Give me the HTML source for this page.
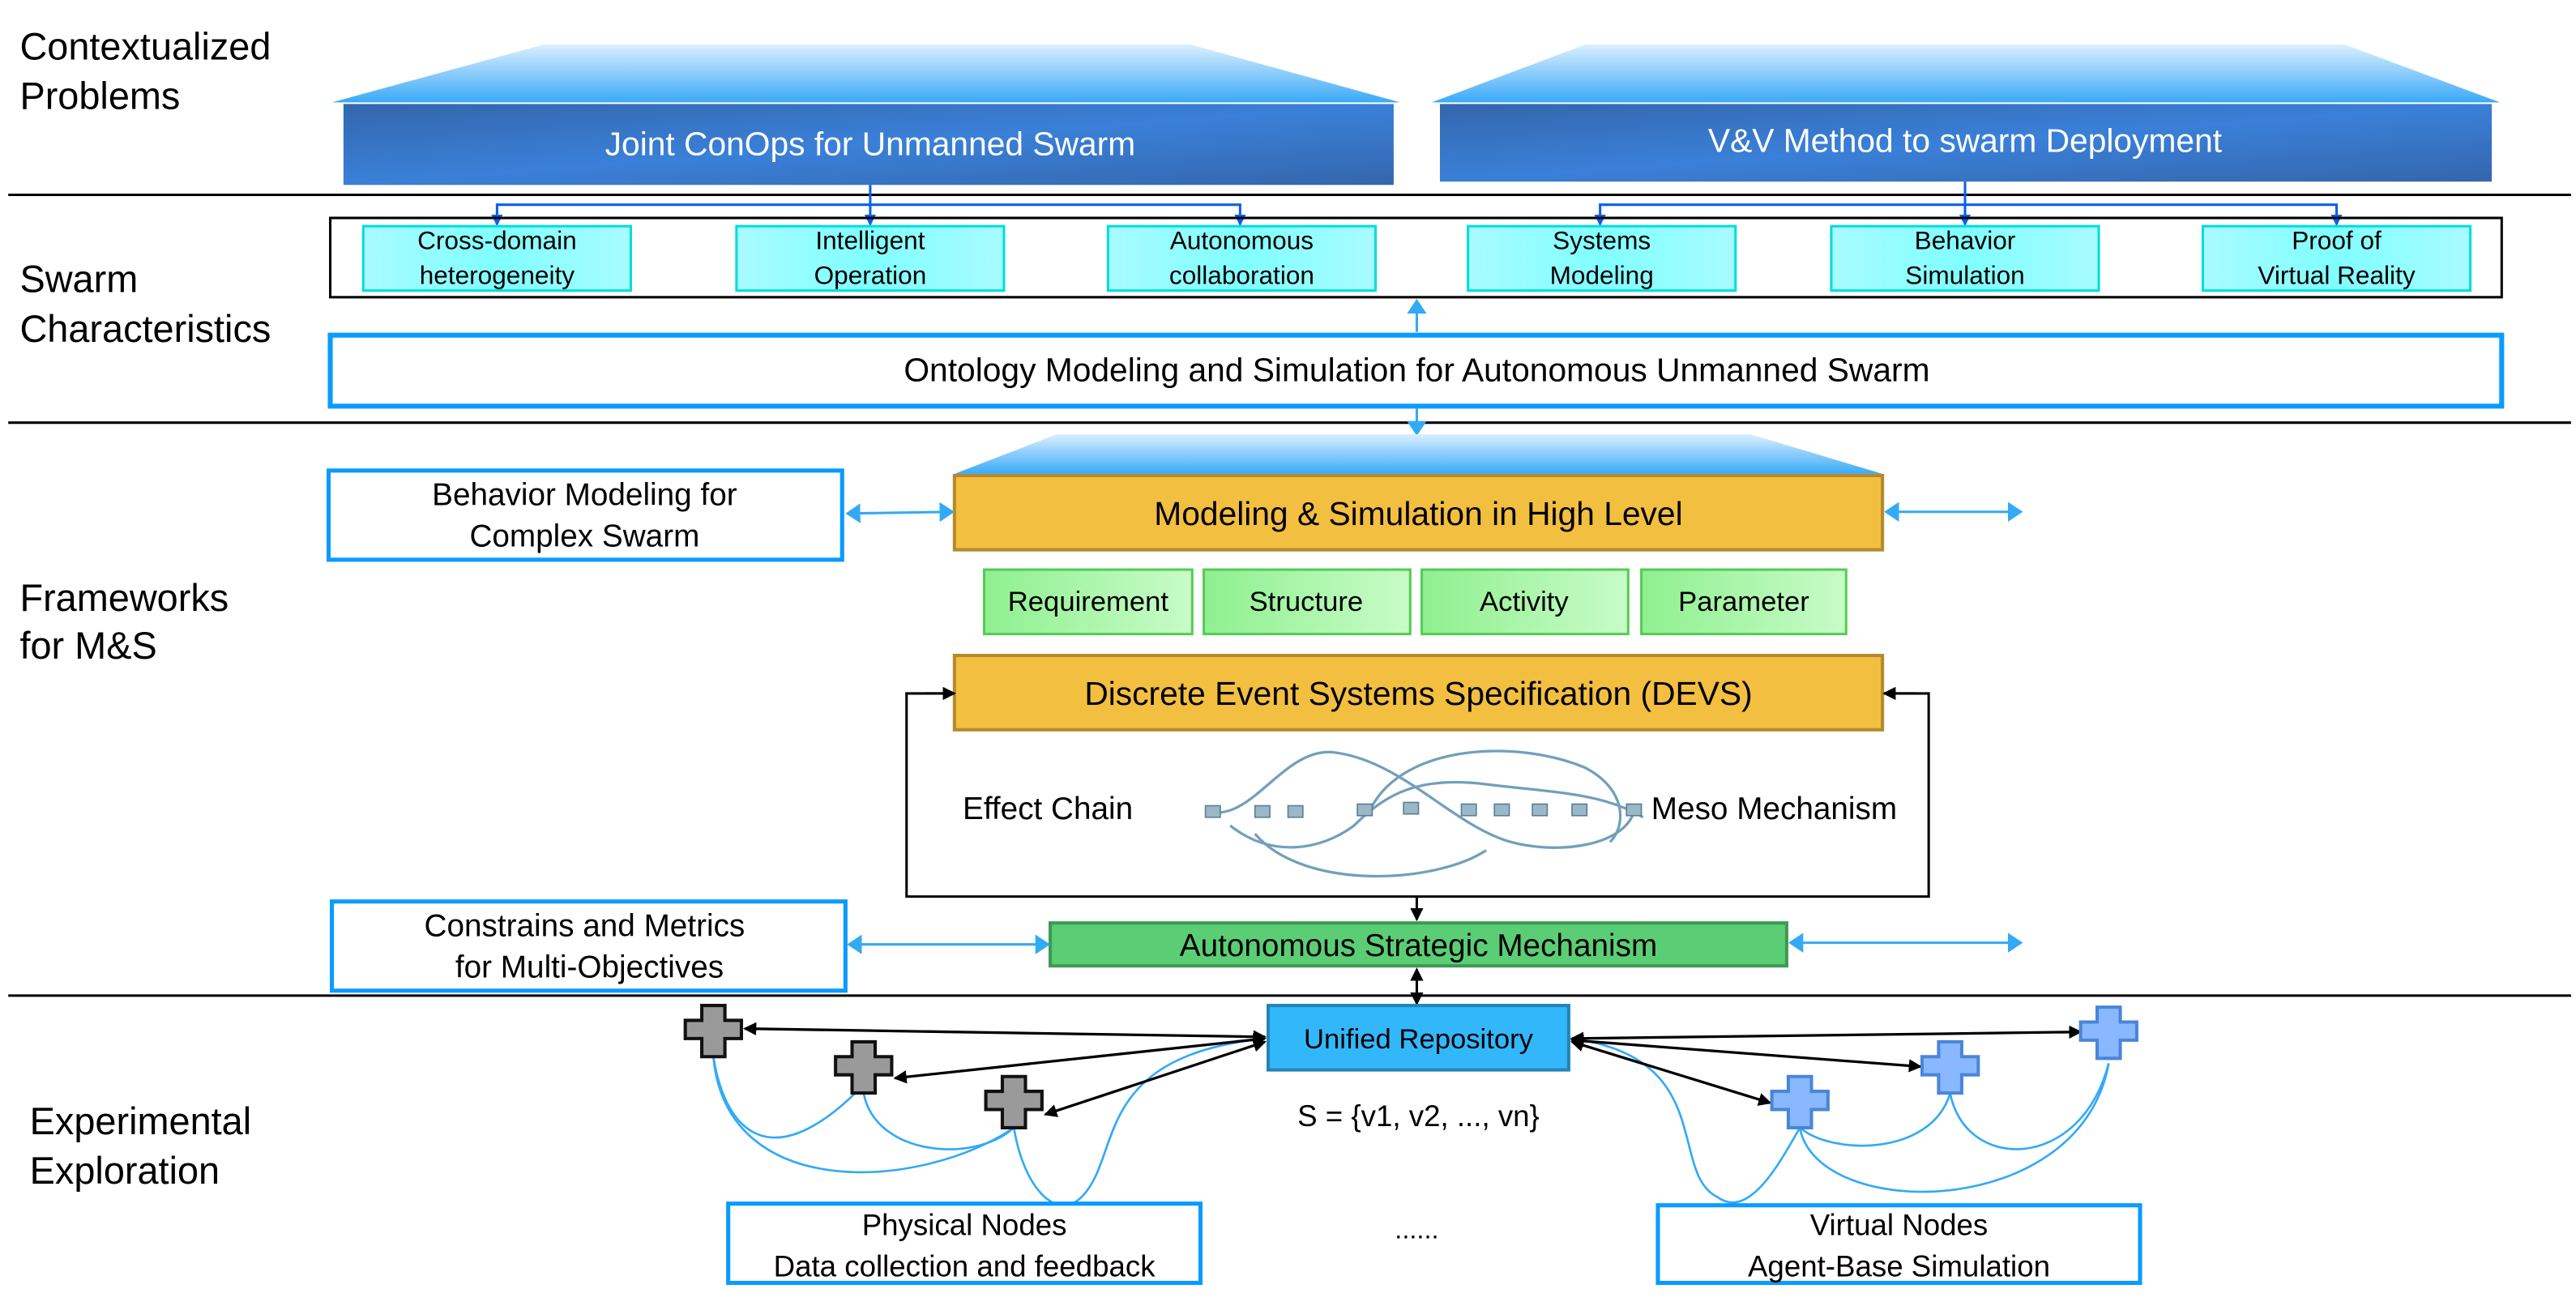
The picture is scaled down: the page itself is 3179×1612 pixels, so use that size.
<!DOCTYPE html>
<html><head><meta charset="utf-8"><style>
html,body{margin:0;padding:0;background:#fff;}
svg{display:block;}
text{font-family:"Liberation Sans",sans-serif;}
</style></head><body>
<svg width="3179" height="1612" viewBox="0 0 1560 791" preserveAspectRatio="none" xmlns="http://www.w3.org/2000/svg">
<defs>
<linearGradient id="trap" x1="0" y1="0" x2="0" y2="1"><stop offset="0" stop-color="#dbefff"/><stop offset="1" stop-color="#3aaaf8"/></linearGradient>
<linearGradient id="dblue" x1="0" y1="0" x2="1" y2="1"><stop offset="0" stop-color="#3466ad"/><stop offset="0.5" stop-color="#3a80d8"/><stop offset="1" stop-color="#3466ad"/></linearGradient>
<linearGradient id="cyan" x1="0" y1="0" x2="1" y2="0"><stop offset="0" stop-color="#a8fbff"/><stop offset="0.5" stop-color="#80ffff"/><stop offset="1" stop-color="#a8fbff"/></linearGradient>
<linearGradient id="lgreen" x1="0" y1="0" x2="1" y2="0"><stop offset="0" stop-color="#8ff08f"/><stop offset="1" stop-color="#c8fcc8"/></linearGradient>
<marker id="ab" markerWidth="8" markerHeight="8" refX="7" refY="4" orient="auto-start-reverse" markerUnits="userSpaceOnUse"><path d="M0,0 L8,4 L0,8 z" fill="#000"/></marker>
<marker id="abl" markerWidth="7" markerHeight="7" refX="6" refY="3.5" orient="auto-start-reverse" markerUnits="userSpaceOnUse"><path d="M0,0 L7,3.5 L0,7 z" fill="#0a5ff0"/></marker>
<marker id="ac" markerWidth="9" markerHeight="12" refX="8" refY="6" orient="auto-start-reverse" markerUnits="userSpaceOnUse"><path d="M0,0 L9,6 L0,12 z" fill="#33aaf5"/></marker>
</defs>

<!-- section lines -->
<g stroke="#000" stroke-width="1.5">
<line x1="5" y1="118" x2="1557" y2="118"/>
<line x1="5" y1="256" x2="1557" y2="256"/>
<line x1="5" y1="603" x2="1557" y2="603"/>
</g>

<!-- left labels -->
<g font-size="23" fill="#000">
<text x="12" y="36">Contextualized</text><text x="12" y="66">Problems</text>
<text x="12" y="177">Swarm</text><text x="12" y="207">Characteristics</text>
<text x="12" y="370">Frameworks</text><text x="12" y="399">for M&amp;S</text>
<text x="18" y="687">Experimental</text><text x="18" y="717">Exploration</text>
</g>

<!-- top blue blocks -->
<polygon points="201,62 329,27 721,27 848,62" fill="url(#trap)"/>
<rect x="208" y="63" width="636" height="49" fill="url(#dblue)"/>
<text x="527" y="94" text-anchor="middle" font-size="20" fill="#fff">Joint ConOps for Unmanned Swarm</text>
<polygon points="867,62 960,27 1420,27 1514,62" fill="url(#trap)"/>
<rect x="872" y="63" width="637" height="47" fill="url(#dblue)"/>
<text x="1190" y="92" text-anchor="middle" font-size="20" fill="#fff">V&amp;V Method  to swarm Deployment</text>

<!-- blue tree connectors -->
<g stroke="#0a5ff0" stroke-width="1.5" fill="none">
<line x1="527" y1="112" x2="527" y2="136" marker-end="url(#abl)"/>
<polyline points="301,136 301,124 751,124 751,136" marker-start="url(#abl)" marker-end="url(#abl)"/>
<line x1="1190" y1="110" x2="1190" y2="136" marker-end="url(#abl)"/>
<polyline points="969,136 969,124 1415,124 1415,136" marker-start="url(#abl)" marker-end="url(#abl)"/>
</g>

<rect x="200" y="132" width="1315" height="48" fill="none" stroke="#000" stroke-width="1.5"/>
<g font-size="15.5" text-anchor="middle" fill="#000">
<g><rect x="220" y="137" width="162" height="39" fill="url(#cyan)" stroke="#0dd" stroke-width="1.5"/><text x="301" y="151">Cross-domain</text><text x="301" y="172">heterogeneity</text></g>
<g><rect x="446" y="137" width="162" height="39" fill="url(#cyan)" stroke="#0dd" stroke-width="1.5"/><text x="527" y="151">Intelligent</text><text x="527" y="172">Operation</text></g>
<g><rect x="671" y="137" width="162" height="39" fill="url(#cyan)" stroke="#0dd" stroke-width="1.5"/><text x="752" y="151">Autonomous</text><text x="752" y="172">collaboration</text></g>
<g><rect x="889" y="137" width="162" height="39" fill="url(#cyan)" stroke="#0dd" stroke-width="1.5"/><text x="970" y="151">Systems</text><text x="970" y="172">Modeling</text></g>
<g><rect x="1109" y="137" width="162" height="39" fill="url(#cyan)" stroke="#0dd" stroke-width="1.5"/><text x="1190" y="151">Behavior</text><text x="1190" y="172">Simulation</text></g>
<g><rect x="1334" y="137" width="162" height="39" fill="url(#cyan)" stroke="#0dd" stroke-width="1.5"/><text x="1415" y="151">Proof of</text><text x="1415" y="172">Virtual Reality</text></g>
</g>

<!-- ontology -->
<rect x="200" y="203" width="1315" height="43" fill="#fff" stroke="#0a9bff" stroke-width="3"/>
<text x="858" y="231" text-anchor="middle" font-size="20">Ontology Modeling and Simulation for Autonomous Unmanned Swarm</text>
<g stroke="#33aaf5" stroke-width="1.5">
<line x1="858" y1="201" x2="858" y2="182" marker-end="url(#ac)"/>
<line x1="858" y1="247" x2="858" y2="263" marker-end="url(#ac)"/>
</g>

<!-- M&S high level -->
<polygon points="578,287 640,263 1060,263 1140,287" fill="url(#trap)"/>
<rect x="578" y="288" width="562" height="45" fill="#f3bf40" stroke="#b58a2c" stroke-width="2"/>
<text x="859" y="318" text-anchor="middle" font-size="20">Modeling &amp; Simulation in High Level</text>
<rect x="199" y="285" width="311" height="54" fill="#fff" stroke="#0a9bff" stroke-width="2.5"/>
<text x="354" y="306" text-anchor="middle" font-size="19">Behavior Modeling for</text>
<text x="354" y="331" text-anchor="middle" font-size="19">Complex Swarm</text>
<g stroke="#33aaf5" stroke-width="1.5">
<line x1="513" y1="311" x2="577" y2="310" marker-start="url(#ac)" marker-end="url(#ac)"/>
<line x1="1142" y1="310" x2="1224" y2="310" marker-start="url(#ac)" marker-end="url(#ac)"/>
</g>

<!-- green boxes -->
<g font-size="17" text-anchor="middle">
<rect x="596" y="345" width="126" height="39" fill="url(#lgreen)" stroke="#5c5" stroke-width="1.5"/><text x="659" y="370">Requirement</text>
<rect x="729" y="345" width="125" height="39" fill="url(#lgreen)" stroke="#5c5" stroke-width="1.5"/><text x="791" y="370">Structure</text>
<rect x="861" y="345" width="125" height="39" fill="url(#lgreen)" stroke="#5c5" stroke-width="1.5"/><text x="923" y="370">Activity</text>
<rect x="994" y="345" width="124" height="39" fill="url(#lgreen)" stroke="#5c5" stroke-width="1.5"/><text x="1056" y="370">Parameter</text>
</g>

<!-- DEVS loop -->
<polyline points="578,420 549,420 549,543 1168,543 1168,420 1141,420" fill="none" stroke="#000" stroke-width="1.5"/>
<rect x="578" y="397" width="562" height="45" fill="#f3bf40" stroke="#b58a2c" stroke-width="2"/>
<text x="859" y="427" text-anchor="middle" font-size="20">Discrete Event Systems Specification (DEVS)</text>
<g stroke="#000" stroke-width="1.5">
<line x1="560" y1="420" x2="578" y2="420" marker-end="url(#ab)"/>
<line x1="1160" y1="420" x2="1141" y2="420" marker-end="url(#ab)"/>
<line x1="858" y1="543" x2="858" y2="557" marker-end="url(#ab)"/>
<line x1="858" y1="587" x2="858" y2="608" marker-start="url(#ab)" marker-end="url(#ab)"/>
</g>
<text x="583" y="496" font-size="19">Effect Chain</text>
<text x="1000" y="496" font-size="19">Meso Mechanism</text>
<!-- infinity-like illustration -->
<g fill="none" stroke="#5a8fb0" stroke-width="1.6" opacity="0.85">
<path d="M735,492 C760,495 780,450 810,456 C850,462 880,500 915,510 C945,518 985,512 990,490"/>
<path d="M745,500 C770,520 800,515 820,500 C840,480 860,470 900,475 C940,480 970,480 995,495"/>
<path d="M830,490 C850,450 920,448 960,465 C985,478 985,500 975,510"/>
<path d="M760,505 C790,540 870,535 900,515"/>
</g>
<g fill="#9bb8c8" stroke="#5a7f94" stroke-width="0.8">
<rect x="730" y="488" width="9" height="7"/><rect x="760" y="488" width="9" height="7"/><rect x="780" y="488" width="9" height="7"/>
<rect x="822" y="487" width="9" height="7"/><rect x="850" y="486" width="9" height="7"/><rect x="885" y="487" width="9" height="7"/>
<rect x="905" y="487" width="9" height="7"/><rect x="928" y="487" width="9" height="7"/><rect x="952" y="487" width="9" height="7"/><rect x="985" y="487" width="9" height="7"/>
</g>

<!-- Autonomous strategic -->
<rect x="636" y="559" width="446" height="26" fill="#5bce75" stroke="#3c9a52" stroke-width="2"/>
<text x="859" y="579" text-anchor="middle" font-size="19">Autonomous Strategic Mechanism</text>
<rect x="201" y="546" width="311" height="54" fill="#fff" stroke="#0a9bff" stroke-width="2.5"/>
<text x="354" y="567" text-anchor="middle" font-size="19">Constrains and Metrics</text>
<text x="357" y="592" text-anchor="middle" font-size="19">for Multi-Objectives</text>
<g stroke="#33aaf5" stroke-width="1.5">
<line x1="514" y1="572" x2="635" y2="572" marker-start="url(#ac)" marker-end="url(#ac)"/>
<line x1="1084" y1="571" x2="1224" y2="571" marker-start="url(#ac)" marker-end="url(#ac)"/>
</g>

<!-- Unified repository -->
<rect x="768" y="609" width="182" height="39" fill="#33b7fb" stroke="#2484b8" stroke-width="2"/>
<text x="859" y="635" text-anchor="middle" font-size="17">Unified Repository</text>
<text x="859" y="682" text-anchor="middle" font-size="18">S = {v1, v2, ..., vn}</text>

<!-- blue curves -->
<g fill="none" stroke="#33aaf5" stroke-width="1.3">
<path d="M432,640 C440,690 470,710 520,660"/>
<path d="M432,640 C440,730 560,720 614,683"/>
<path d="M523,662 C530,700 590,705 614,683"/>
<path d="M614,683 C620,720 640,740 655,725 C680,700 660,640 766,629"/>
<path d="M951,629 C1040,640 1010,710 1040,725 C1060,740 1080,700 1090,683"/>
<path d="M1090,683 C1110,700 1170,700 1181,662"/>
<path d="M1090,683 C1100,740 1260,740 1277,644"/>
<path d="M1181,662 C1190,710 1260,710 1277,644"/>
</g>

<!-- black arrows to crosses -->
<g stroke="#000" stroke-width="1.6">
<line x1="766" y1="628" x2="451" y2="623" marker-start="url(#ab)" marker-end="url(#ab)"/>
<line x1="766" y1="629" x2="542" y2="653" marker-start="url(#ab)" marker-end="url(#ab)"/>
<line x1="766" y1="631" x2="633" y2="675" marker-start="url(#ab)" marker-end="url(#ab)"/>
<line x1="952" y1="629" x2="1260" y2="625" marker-start="url(#ab)" marker-end="url(#ab)"/>
<line x1="952" y1="630" x2="1163" y2="646" marker-start="url(#ab)" marker-end="url(#ab)"/>
<line x1="952" y1="631" x2="1072" y2="668" marker-start="url(#ab)" marker-end="url(#ab)"/>
</g>

<!-- crosses -->
<g stroke="#111" stroke-width="2" fill="#9a9a9a">
<path d="M425,609 h14 v9 h10 v11 h-10 v11 h-14 v-11 h-10 v-11 h10 z"/>
<path d="M516,631 h14 v9 h10 v11 h-10 v11 h-14 v-11 h-10 v-11 h10 z"/>
<path d="M607,652 h14 v9 h10 v11 h-10 v11 h-14 v-11 h-10 v-11 h10 z"/>
</g>
<g stroke="#4a86d8" stroke-width="2" fill="#8ab8ff">
<path d="M1083,652 h14 v9 h10 v11 h-10 v11 h-14 v-11 h-10 v-11 h10 z"/>
<path d="M1174,631 h14 v9 h10 v11 h-10 v11 h-14 v-11 h-10 v-11 h10 z"/>
<path d="M1270,610 h14 v9 h10 v11 h-10 v11 h-14 v-11 h-10 v-11 h10 z"/>
</g>

<!-- bottom boxes -->
<rect x="441" y="729" width="286" height="48" fill="#fff" stroke="#0a9bff" stroke-width="2.5"/>
<text x="584" y="748" text-anchor="middle" font-size="18">Physical Nodes</text>
<text x="584" y="773" text-anchor="middle" font-size="18">Data collection and feedback</text>
<text x="858" y="750" text-anchor="middle" font-size="16">......</text>
<rect x="1004" y="730" width="292" height="47" fill="#fff" stroke="#0a9bff" stroke-width="2.5"/>
<text x="1150" y="748" text-anchor="middle" font-size="18">Virtual Nodes</text>
<text x="1150" y="773" text-anchor="middle" font-size="18">Agent-Base Simulation</text>
</svg>
</body></html>
